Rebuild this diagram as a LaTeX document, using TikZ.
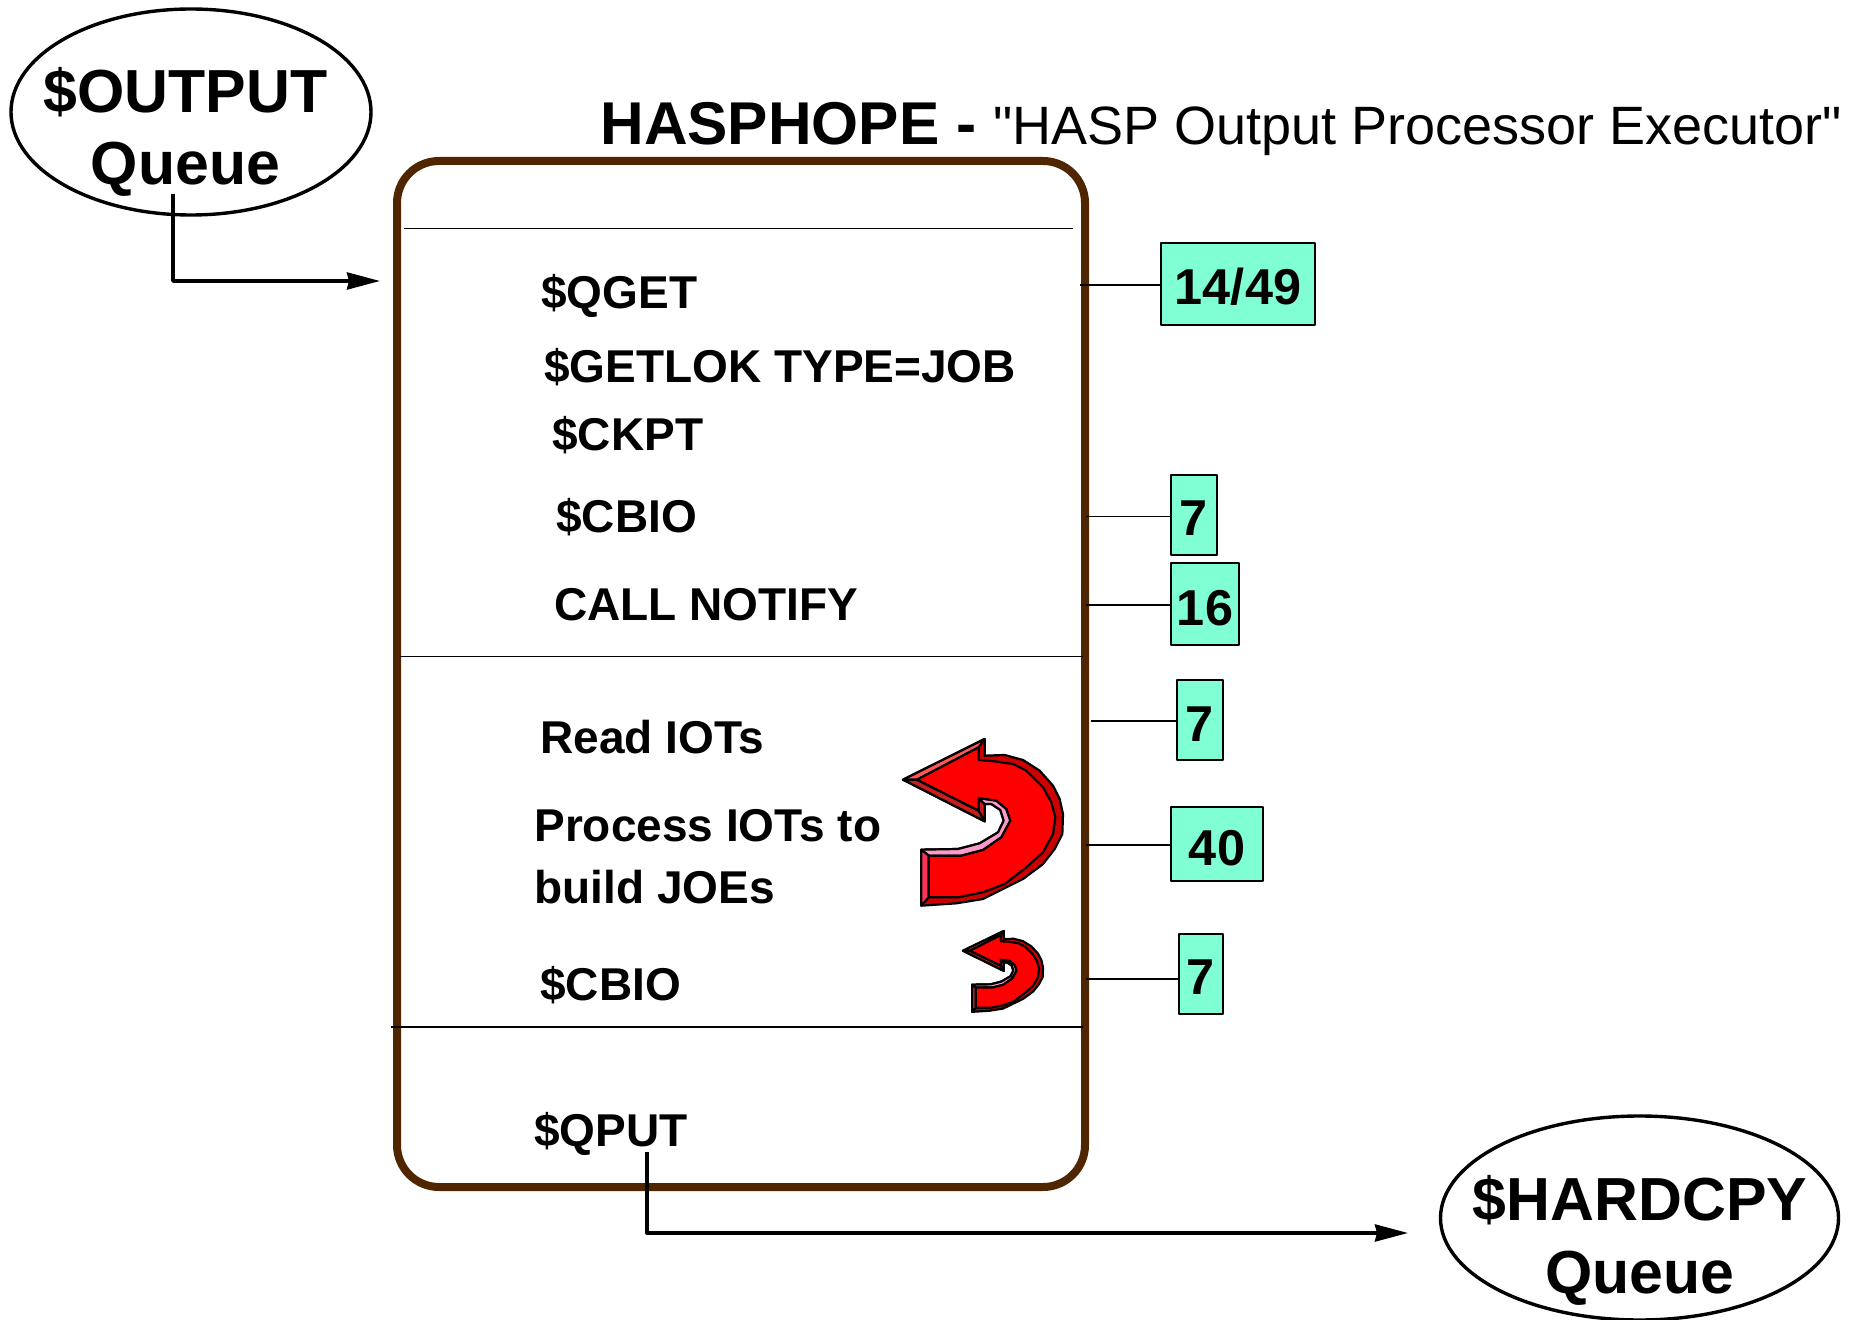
\documentclass[tikz,border=0pt]{standalone}
\usepackage{fontspec}
\usetikzlibrary{shapes.geometric, arrows.meta}
\newfontfamily\arialfont{Liberation Sans}
\definecolor{boxbrown}{HTML}{4F2600}
\definecolor{tagcyan}{HTML}{80FFD4}
\definecolor{facepink}{HTML}{FF99CC}
\definecolor{faceleft}{HTML}{FF3355}
\definecolor{facelight}{HTML}{FF5555}
\definecolor{facedark}{HTML}{C81E1E}
\definecolor{faceouter}{HTML}{CC0000}
\tikzset{
  itemtext/.style={anchor=base west, inner sep=0pt, font=\arialfont\bfseries\fontsize{23}{26}\selectfont},
  tagbox/.style={draw=black, line width=1pt, fill=tagcyan, inner sep=0pt, text height=21pt, text depth=0pt, font=\arialfont\bfseries\fontsize{25.2}{28}\selectfont},
  queue/.style={draw=black, ellipse, line width=1.7pt, inner sep=-40pt},
  queuetext/.style={anchor=base, inner sep=0pt, font=\arialfont\bfseries\fontsize{30.4}{36}\selectfont},
  uturn/.pic={
    \begin{scope}[scale=1/3, shift={(-70,-55)}, draw=black, line width=1.1pt, line join=round]
      \filldraw[fill=faceouter] (70,177)--(315,55)--(315,105)--(375,103)--(430,118)--(480,150)--(520,195)--(540,235)--(550,280)--(548,340)--(525,385)--(490,430)--(430,475)--(370,505)--(310,535)--(230,548)--(125,555)--(125,387)--(235,385)--(300,368)--(355,335)--(372,300)--(362,268)--(335,250)--(315,250)--(315,302)--cycle;
      \filldraw[fill=facelight] (70,177)--(315,55)--(297,80)--(112,177)--cycle;
      \filldraw[fill=facedark] (70,177)--(112,177)--(297,270)--(315,302)--cycle;
      \filldraw[fill=facedark] (315,250)--(315,302)--(297,270)--(297,232)--cycle;
      \filldraw[fill=facepink] (125,387)--(235,385)--(300,368)--(355,335)--(372,300)--(362,268)--(335,250)--(315,250)--(297,232)--(350,240)--(380,265)--(392,300)--(365,350)--(310,388)--(245,405)--(147,405)--cycle;
      \filldraw[fill=faceleft] (125,387)--(147,405)--(147,530)--(125,555)--cycle;
      \filldraw[fill=red] (112,177)--(297,80)--(297,118)--(345,122)--(400,130)--(440,150)--(490,200)--(515,245)--(527,290)--(520,340)--(490,395)--(440,440)--(375,490)--(310,515)--(235,530)--(147,530)--(147,405)--(245,405)--(310,388)--(365,350)--(392,300)--(380,265)--(350,240)--(297,232)--(297,270)--cycle;
    \end{scope}
  }
}
\begin{document}
\begin{tikzpicture}[x=0.5pt, y=-0.5pt, line join=round, >={Stealth[length=16.5pt, width=8.5pt, inset=1pt]}]
  \useasboundingbox (0,0) rectangle (1853,1320);
  % queues
  \node[queue, minimum width=180pt, minimum height=103pt] (outq) at (191,112) {};
  \node[queuetext] (outqa) at (185.5,113) {\$OUTPUT};
  \node[queuetext] (outqb) at (185.5,185) {Queue};
  \node[queue, minimum width=199pt, minimum height=102pt] (hardq) at (1639.5,1218) {};
  \node[queuetext] (hardqa) at (1640,1220) {\$HARDCPY};
  \node[queuetext] (hardqb) at (1640,1293) {Queue};
  % main box
  \draw[boxbrown, line width=4pt, rounded corners=21pt] (397,161) rectangle (1085,1187);
  \draw[line width=0.8pt] (404,228.5)--(1073,228.5);
  \draw[line width=0.8pt] (400,656.5)--(1083,656.5);
  \draw[line width=0.8pt] (391,1027)--(1083,1027);
  % title
  \node[anchor=base west, inner sep=0pt, font=\arialfont] (title) at (600,145)
    {{\bfseries\fontsize{30.2}{32}\selectfont HASPHOPE - }{\fontsize{27}{32}\selectfont "HASP Output Processor Executor"}};
  % items
  \node[itemtext] (qget) at (541,309) {\$QGET};
  \node[itemtext] (getlok) at (544,383) {\$GETLOK TYPE=JOB};
  \node[itemtext] (ckpt) at (552,451) {\$CKPT};
  \node[itemtext] (cbioa) at (556,533) {\$CBIO};
  \node[itemtext] (notify) at (554,621) {CALL NOTIFY};
  \node[itemtext] (read) at (540,753) {Read IOTs};
  \node[itemtext] (proca) at (534,841) {Process IOTs to};
  \node[itemtext] (procb) at (534,903) {build JOEs};
  \node[itemtext] (cbiob) at (540,1000) {\$CBIO};
  \node[itemtext] (qput) at (534,1146) {\$QPUT};
  % loops
  \pic at (903,739) {uturn};
  \pic[xscale=0.5, yscale=0.485] at (963,931) {uturn};
  % tags
  \node[tagbox, minimum width=77pt, minimum height=41pt] (tga) at (1238,284) {14/49};
  \node[tagbox, minimum width=23pt, minimum height=40pt] (tgb) at (1194,515) {7};
  \node[tagbox, minimum width=34pt, minimum height=41pt] (tgc) at (1205,604) {16};
  \node[tagbox, minimum width=23pt, minimum height=40pt] (tgd) at (1200,720) {7};
  \node[tagbox, minimum width=46pt, minimum height=37pt] (tge) at (1217,844) {40};
  \node[tagbox, minimum width=22pt, minimum height=40pt] (tgf) at (1200.5,973.5) {7};
  \coordinate (sa) at (1080,285);
  \coordinate (sb) at (1086,516.5);
  \coordinate (sc) at (1086,605);
  \coordinate (sd) at (1091,721);
  \coordinate (se) at (1086,845);
  \coordinate (sf) at (1086,979);
  \draw[line width=0.8pt] (sa)--(sa -| tga.west);
  \draw[line width=0.8pt] (sb)--(sb -| tgb.west);
  \draw[line width=0.8pt] (sc)--(sc -| tgc.west);
  \draw[line width=0.8pt] (sd)--(sd -| tgd.west);
  \draw[line width=0.8pt] (se)--(se -| tge.west);
  \draw[line width=0.8pt] (sf)--(sf -| tgf.west);
  % flows
  \coordinate (inend) at (380,281);
  \coordinate (instart) at (173,194);
  \coordinate (outend) at (1408,1233);
  \coordinate (outstart) at (647,1152);
  \draw[->, line width=1.7pt] (instart)|-(inend);
  \draw[->, line width=1.7pt] (outstart)|-(outend);
\end{tikzpicture}
\end{document}
